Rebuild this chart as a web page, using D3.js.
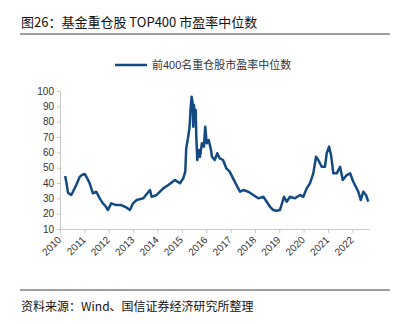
<!DOCTYPE html>
<html><head><meta charset="utf-8">
<script src="https://cdn.jsdelivr.net/npm/d3@7"></script>
<style>
body{margin:0;background:#fff;}
svg{display:block;}
</style></head>
<body>
<script>
const titleText = "图26：基金重仓股 TOP400 市盈率中位数";
const seriesName = "前400名重仓股市盈率中位数";
const sourceText = "资料来源：Wind、国信证券经济研究所整理";
const yTicks = [10,20,30,40,50,60,70,80,90,100];
const xTickYears = [2010,2011,2012,2013,2014,2015,2016,2017,2018,2019,2020,2021,2022];
const dates = ["2010-03-20","2010-04-08","2010-05-01","2010-06-19","2010-07-14","2010-09-02","2010-10-23","2010-11-26","2011-01-06","2011-02-14","2011-03-22","2011-05-10","2011-06-29","2011-08-19","2011-10-07","2011-11-13","2011-12-20","2012-02-08","2012-04-23","2012-07-07","2012-09-20","2012-11-14","2012-12-30","2013-02-24","2013-06-03","2013-09-11","2013-10-06","2013-12-20","2014-03-29","2014-06-12","2014-09-20","2014-12-04",
"2015-01-22","2015-02-22","2015-03-08","2015-04-03","2015-04-28","2015-05-13","2015-05-28","2015-06-13","2015-06-22","2015-07-02","2015-07-13","2015-07-28","2015-08-06","2015-08-21","2015-09-11","2015-09-30","2015-10-30","2015-11-29","2015-12-18","2016-01-09","2016-02-08","2016-03-09","2016-03-28","2016-05-08","2016-06-16","2016-07-22","2016-09-10","2016-10-29","2016-12-19","2017-02-07","2017-04-12",
"2017-05-23","2017-07-11","2017-09-24","2017-12-08","2018-02-21","2018-05-07","2018-06-27","2018-08-15","2018-10-03","2018-11-23","2019-01-12","2019-03-13","2019-04-22","2019-06-11","2019-08-25","2019-11-07","2019-12-27","2020-02-16","2020-04-05","2020-05-25","2020-07-05","2020-08-08","2020-09-28","2020-11-16","2020-12-12","2021-01-16","2021-02-15","2021-03-21","2021-05-12","2021-06-30","2021-08-10","2021-10-09","2021-11-28","2022-01-15","2022-03-31","2022-05-06","2022-06-14","2022-07-24","2022-08-27"];
const values = [44.6,40,33.7,32.2,34.3,38.7,44,45.2,45.9,43,39.8,33.3,34.3,30,26.7,25,22.4,26.7,25.6,25.6,24.1,22.4,26.7,28.9,30,35.4,31,32.2,36.5,38.7,42,39.8,
43,47.4,62.6,69.1,76.7,88.7,96.3,92,76.7,90.9,81.1,87.6,70.2,55,61.5,57.1,65.9,63.7,76.7,65.9,68,62.6,57.1,55,59.4,56.1,55,49.6,47.4,43,37.6,
34.3,35.4,34.3,32.2,30,31,27.8,24.5,22.4,21.9,22.4,31,27.8,31,30,32.2,31,36.5,39.8,46.3,57.1,55,50.6,50.6,59.4,63.7,58.3,46.3,46.3,50.6,42,45.2,46.3,40.8,34.3,28.9,34.3,32.2,27.8];

const W = 402, H = 324;
const parse = d3.timeParse("%Y-%m-%d");
const data = dates.map((d,i)=>({date: parse(d), value: values[i]}));

const svg = d3.select("body").append("svg").attr("width", W).attr("height", H);
const cjk = "'Noto Sans CJK SC', 'Noto Sans', sans-serif";
const latin = "'Liberation Sans', Arial, 'Noto Sans CJK SC', sans-serif";

// title
svg.append("text").attr("x", 21).attr("y", 27).attr("font-family", cjk)
  .attr("font-size", 13).attr("fill", "#111").text(titleText);
svg.append("line").attr("x1", 20).attr("x2", 390).attr("y1", 34).attr("y2", 34)
  .attr("stroke", "#7f7f7f").attr("stroke-width", 1.5);

const x = d3.scaleTime().domain([parse("2010-01-01"), parse("2022-09-07")]).range([60, 369]);
const y = d3.scaleLinear().domain([10, 100]).range([229, 91]);

// legend
svg.append("line").attr("x1", 115).attr("x2", 147).attr("y1", 65).attr("y2", 65)
  .attr("stroke", "#134a82").attr("stroke-width", 2.5);
svg.append("text").attr("x", 152).attr("y", 69).attr("font-family", latin)
  .attr("font-size", 11).attr("fill", "#333").text(seriesName);

// y axis
const yAxis = svg.append("g").attr("transform", "translate(60,0)")
  .call(d3.axisLeft(y).tickValues(yTicks).tickSize(3).tickPadding(3).tickSizeOuter(0));
yAxis.select(".domain").attr("stroke", "#c8c8c8");
yAxis.selectAll(".tick line").attr("stroke", "#c8c8c8");
yAxis.selectAll("text").attr("font-family", latin).attr("font-size", 10).attr("fill", "#333");

// x axis
const xAxis = svg.append("g").attr("transform", "translate(0,229)")
  .call(d3.axisBottom(x).tickValues(xTickYears.map(yr => new Date(yr,0,1)))
    .tickFormat(d3.timeFormat("%Y")).tickSize(4).tickSizeOuter(0));
xAxis.select(".domain").attr("stroke", "#c8c8c8");
xAxis.selectAll(".tick line").attr("stroke", "#c8c8c8");
xAxis.selectAll("text").attr("font-family", latin).attr("font-size", 10).attr("fill", "#333")
  .attr("text-anchor", "end").attr("dy", "0.35em")
  .attr("transform", "translate(-1,9) rotate(-45)").attr("y", 0).attr("x", 0);

// line
const line = d3.line().x(d => x(d.date)).y(d => y(d.value)).curve(d3.curveLinear);
svg.append("path").datum(data).attr("d", line).attr("fill", "none")
  .attr("stroke", "#134a82").attr("stroke-width", 2.5).attr("stroke-linejoin", "round");

// source
svg.append("line").attr("x1", 20).attr("x2", 390).attr("y1", 290).attr("y2", 290)
  .attr("stroke", "#7f7f7f").attr("stroke-width", 1.5);
svg.append("text").attr("x", 21).attr("y", 311).attr("font-family", cjk)
  .attr("font-size", 12).attr("fill", "#111").text(sourceText);
</script>
</body></html>
